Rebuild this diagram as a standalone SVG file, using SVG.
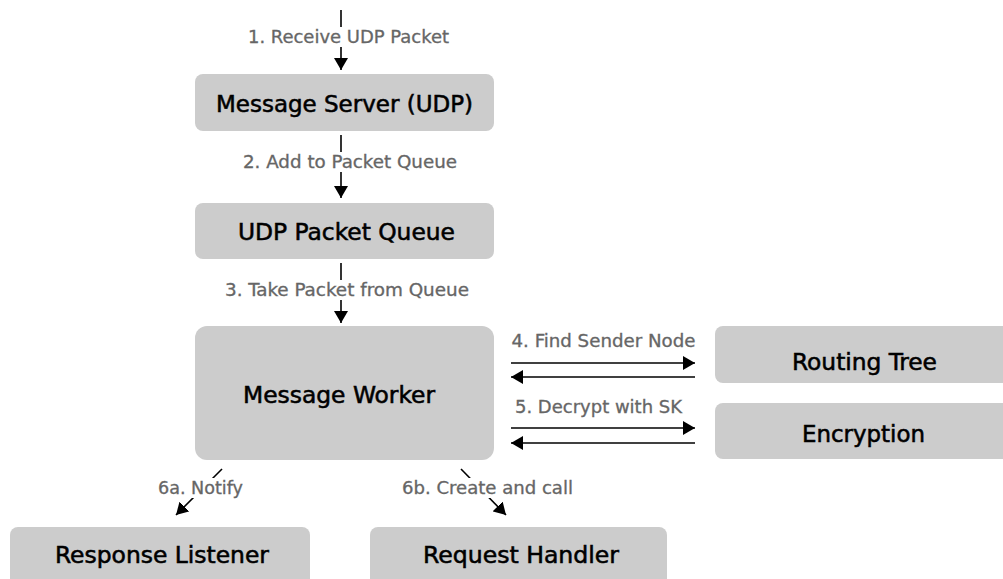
<svg xmlns="http://www.w3.org/2000/svg" width="1003" height="579" viewBox="0 0 1003 579">
  <defs>
    <marker id="arrow" viewBox="0 0 12 14" refX="12" refY="7" markerWidth="12" markerHeight="14" markerUnits="userSpaceOnUse" orient="auto">
      <path d="M0,0 L12,7 L0,14 Z" fill="#000"/>
    </marker>
    <style>
      .node rect { fill: #cccccc; }
      .node text { font-family: "DejaVu Sans Condensed", "DejaVu Sans", sans-serif; font-size: 23px; fill: #000; stroke: #000; stroke-width: 0.5; text-anchor: middle; }
      .edge { stroke: #000; stroke-width: 1.6; fill: none; marker-end: url(#arrow); }
      .label { font-family: "DejaVu Sans Condensed", "DejaVu Sans", sans-serif; font-size: 18.5px; fill: #666666; stroke: #666666; stroke-width: 0.3; text-anchor: middle; }
      .label-bg { fill: #ffffff; }
    </style>
  </defs>

  <!-- Connectors -->
  <g id="connectors">
    <line class="edge" x1="341" y1="10" x2="341" y2="70"/>
    <line class="edge" x1="341" y1="135" x2="341" y2="198"/>
    <line class="edge" x1="341" y1="263" x2="341" y2="323"/>
    <line class="edge" x1="511" y1="363" x2="695" y2="363"/>
    <line class="edge" x1="695" y1="377" x2="511" y2="377"/>
    <line class="edge" x1="511" y1="428" x2="695" y2="428"/>
    <line class="edge" x1="695" y1="443" x2="511" y2="443"/>
    <line class="edge" x1="222" y1="469" x2="176" y2="515"/>
    <line class="edge" x1="461" y1="469" x2="506" y2="515"/>

    <rect class="label-bg" x="246" y="27" width="205" height="20"/>
    <text class="label" x="348.5" y="43" textLength="201" lengthAdjust="spacingAndGlyphs">1. Receive UDP Packet</text>
    <rect class="label-bg" x="241" y="152" width="218" height="20"/>
    <text class="label" x="350" y="168" textLength="214" lengthAdjust="spacingAndGlyphs">2. Add to Packet Queue</text>
    <rect class="label-bg" x="223" y="280" width="248" height="20"/>
    <text class="label" x="347" y="296" textLength="244" lengthAdjust="spacingAndGlyphs">3. Take Packet from Queue</text>
    <text class="label" x="603.5" y="347" textLength="184" lengthAdjust="spacingAndGlyphs">4. Find Sender Node</text>
    <text class="label" x="598.5" y="413" textLength="167" lengthAdjust="spacingAndGlyphs">5. Decrypt with SK</text>
    <rect class="label-bg" x="155" y="478" width="91" height="20"/>
    <text class="label" x="200.5" y="494" textLength="85" lengthAdjust="spacingAndGlyphs">6a. Notify</text>
    <rect class="label-bg" x="400" y="478" width="175" height="20"/>
    <text class="label" x="487.5" y="494" textLength="171" lengthAdjust="spacingAndGlyphs">6b. Create and call</text>
  </g>

  <g id="message-server" class="node">
    <rect x="195" y="74" width="299" height="57" rx="8"/>
    <text x="344.5" y="112" textLength="257" lengthAdjust="spacingAndGlyphs">Message Server (UDP)</text>
  </g>
  <g id="udp-packet-queue" class="node">
    <rect x="195" y="203" width="299" height="56" rx="8"/>
    <text x="346.5" y="240" textLength="217" lengthAdjust="spacingAndGlyphs">UDP Packet Queue</text>
  </g>
  <g id="message-worker" class="node">
    <rect x="195" y="326" width="299" height="134" rx="12"/>
    <text x="339" y="403" textLength="192" lengthAdjust="spacingAndGlyphs">Message Worker</text>
  </g>
  <g id="routing-tree" class="node">
    <rect x="715" y="326" width="300" height="57" rx="8"/>
    <text x="864.5" y="370" textLength="145" lengthAdjust="spacingAndGlyphs">Routing Tree</text>
  </g>
  <g id="encryption" class="node">
    <rect x="715" y="403" width="300" height="56" rx="8"/>
    <text x="863.5" y="442" textLength="123" lengthAdjust="spacingAndGlyphs">Encryption</text>
  </g>
  <g id="response-listener" class="node">
    <rect x="10" y="527" width="300" height="60" rx="8"/>
    <text x="162" y="563" textLength="214" lengthAdjust="spacingAndGlyphs">Response Listener</text>
  </g>
  <g id="request-handler" class="node">
    <rect x="370" y="527" width="297" height="60" rx="8"/>
    <text x="521" y="563" textLength="196" lengthAdjust="spacingAndGlyphs">Request Handler</text>
  </g>
</svg>
